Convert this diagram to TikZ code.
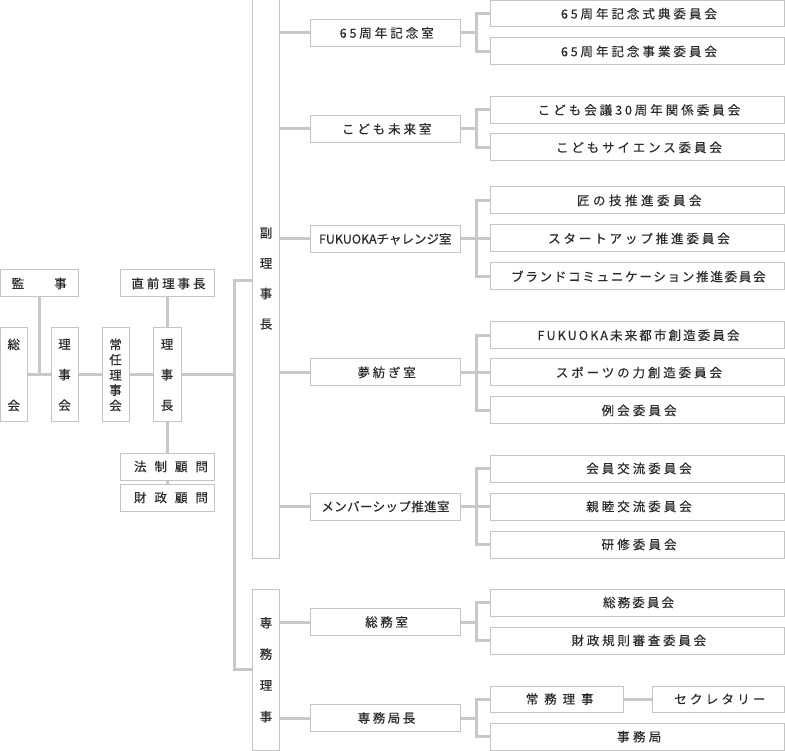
\documentclass[tikz,border=0pt]{standalone}
\usepackage{fontspec}
\setmainfont{Noto Sans CJK JP}[FakeBold=0.3]
\definecolor{ln}{HTML}{C8C8C8}
\definecolor{bd}{HTML}{C4C4C4}
\definecolor{tx}{HTML}{2A2A2A}
\newcommand{\LS}[2]{{\addfontfeatures{LetterSpace=#1}#2}\kern-\dimexpr0.01em*#1\relax}
\newcommand{\dg}[1]{#1\kern2.8pt}
\tikzset{
  box/.style={draw=bd, line width=1pt, fill=white, inner sep=0pt, text=tx,
    font=\fontsize{12.5}{15}\selectfont},
  stk/.style={align=center, font=\fontsize{12.5}{#1}\selectfont},
  conn/.style={draw=ln, line width=3pt},
}
\newcommand{\bx}[7][]{\node[box,#1,minimum width={((#5)-(#3))*1pt},minimum height={((#6)-(#4))*1pt}] (#2) at ({((#3)+(#5))/2},{((#4)+(#6))/2}) {#7};}
\begin{document}
\begin{tikzpicture}[x=1pt,y=-1pt]
\useasboundingbox (0,0) rectangle (785,751);
% left part
\bx{kanji}{0.5}{270}{78}{297}{監\hspace{30pt}事}
\bx{choku}{120}{270}{214}{297}{\LS{23}{直前理事長}}
\bx[stk=61]{sokai}{0.5}{328}{27}{422}{総\\会}
\bx[stk=30.5]{rijikai}{51}{328}{78}{422}{理\\事\\会}
\bx[stk=15.25]{jonin}{102}{328}{129}{422}{常\\任\\理\\事\\会}
\bx[stk=30.5]{rijicho}{153}{328}{181}{422}{理\\事\\長}
\bx{hosei}{120}{453}{214}{480}{\LS{64}{法制顧問}}
\bx{zaisei}{120}{484}{214}{511}{\LS{64}{財政顧問}}
% vice chair / managing director
\bx[stk=30.3]{fuku}{252.5}{-1}{279.5}{558}{副\\理\\事\\長}
\bx[stk=31.3]{senmu}{252.5}{589}{279.5}{750.5}{専\\務\\理\\事}
% departments
\bx{d1}{310.5}{19.5}{460}{46.5}{\LS{24}{\dg{6}\dg{5}周年記念室}}
\bx{d2}{310.5}{115.5}{460}{142.5}{\LS{23}{こども未来室}}
\bx{d3}{310.5}{225.5}{460}{252.5}{FUKUOKAチャレンジ室}
\bx{d4}{310.5}{359}{460}{386}{\LS{22}{夢紡ぎ室}}
\bx{d5}{310.5}{493}{460}{520}{\LS{3}{メンバーシップ推進室}}
\bx{d6}{310.5}{608.5}{460}{635.5}{\LS{21}{総務室}}
\bx{d7}{310.5}{704.5}{460}{731.5}{\LS{20}{専務局長}}
% committees
\bx{c11}{490.5}{0.5}{784.5}{27}{\LS{24}{\dg{6}\dg{5}周年記念式典委員会}}
\bx{c12}{490.5}{38}{784.5}{65}{\LS{24}{\dg{6}\dg{5}周年記念事業委員会}}
\bx{c21}{490.5}{96.5}{784.5}{123.5}{\LS{24}{こども会議\dg{3}\dg{0}周年関係委員会}}
\bx{c22}{490.5}{134}{784.5}{161}{\LS{23}{こどもサイエンス委員会}}
\bx{c31}{490.5}{187}{784.5}{214}{\LS{28}{匠の技推進委員会}}
\bx{c32}{490.5}{225}{784.5}{252}{\LS{23}{スタートアップ推進委員会}}
\bx{c33}{490.5}{263}{784.5}{290}{\LS{14}{ブランドコミュニケーション推進委員会}}
\bx{c41}{490.5}{322}{784.5}{348.5}{\LS{17}{FUKUOKA未来都市創造委員会}}
\bx{c42}{490.5}{359}{784.5}{386}{\LS{23}{スポーツの力創造委員会}}
\bx{c43}{490.5}{397}{784.5}{424}{\LS{25}{例会委員会}}
\bx{c51}{490.5}{455}{784.5}{482}{\LS{24}{会員交流委員会}}
\bx{c52}{490.5}{493}{784.5}{520}{\LS{24}{親睦交流委員会}}
\bx{c53}{490.5}{531}{784.5}{558}{\LS{25}{研修委員会}}
\bx{c61}{490.5}{589}{784.5}{616}{\LS{17}{総務委員会}}
\bx{c62}{490.5}{627}{784.5}{654}{\LS{22}{財政規則審査委員会}}
\bx{c71}{490.5}{686}{623}{712}{\LS{47}{常務理事}}
\bx{sec}{652}{686}{784.5}{712}{\LS{26}{セクレタリー}}
\bx{c72}{490.5}{723}{784.5}{750.5}{\LS{27}{事務局}}
% coordinates
\coordinate (t1) at (234,281);
\coordinate (t2) at (234,669);
\coordinate (b1) at (476.5,33);
\coordinate (b2) at (476.5,129);
\coordinate (b3) at (476.5,239);
\coordinate (b4) at (476.5,372.5);
\coordinate (b5) at (476.5,506.5);
\coordinate (b6) at (476.5,622);
\coordinate (b7) at (476.5,718);
% left connectors
\draw[conn] (sokai.east) -- (rijikai.west);
\draw[conn] (rijikai.east) -- (jonin.west);
\draw[conn] (jonin.east) -- (rijicho.west);
\draw[conn] (rijicho.east) -- (rijicho.east -| t1);
\draw[conn] (kanji.south) -- (kanji.south |- sokai.east);
\draw[conn] (choku.south) -- (rijicho.north);
\draw[conn] (rijicho.south) -- (hosei.north);
\draw[conn] (hosei.south) -- (zaisei.north);
\draw[conn] (fuku.west |- t1) -- (t1) -- (t2) -- (senmu.west |- t2);
% vice chair to departments
\foreach \d in {d1,d2,d3,d4,d5}{\draw[conn] (fuku.east |- \d.west) -- (\d.west);}
\foreach \d in {d6,d7}{\draw[conn] (senmu.east |- \d.west) -- (\d.west);}
% brackets
\draw[conn] (d1.east) -- (b1);
\draw[conn] (c11.west) -| (b1) |- (c12.west);
\draw[conn] (d2.east) -- (b2);
\draw[conn] (c21.west) -| (b2) |- (c22.west);
\draw[conn] (d3.east) -- (b3);
\draw[conn] (c31.west) -| (b3) |- (c33.west);
\draw[conn] (b3 |- c32.west) -- (c32.west);
\draw[conn] (d4.east) -- (b4);
\draw[conn] (c41.west) -| (b4) |- (c43.west);
\draw[conn] (b4 |- c42.west) -- (c42.west);
\draw[conn] (d5.east) -- (b5);
\draw[conn] (c51.west) -| (b5) |- (c53.west);
\draw[conn] (b5 |- c52.west) -- (c52.west);
\draw[conn] (d6.east) -- (b6);
\draw[conn] (c61.west) -| (b6) |- (c62.west);
\draw[conn] (d7.east) -- (b7);
\draw[conn] (c71.west) -| (b7) |- (c72.west);
\draw[conn] (c71.east) -- (sec.west);
\end{tikzpicture}
\end{document}
